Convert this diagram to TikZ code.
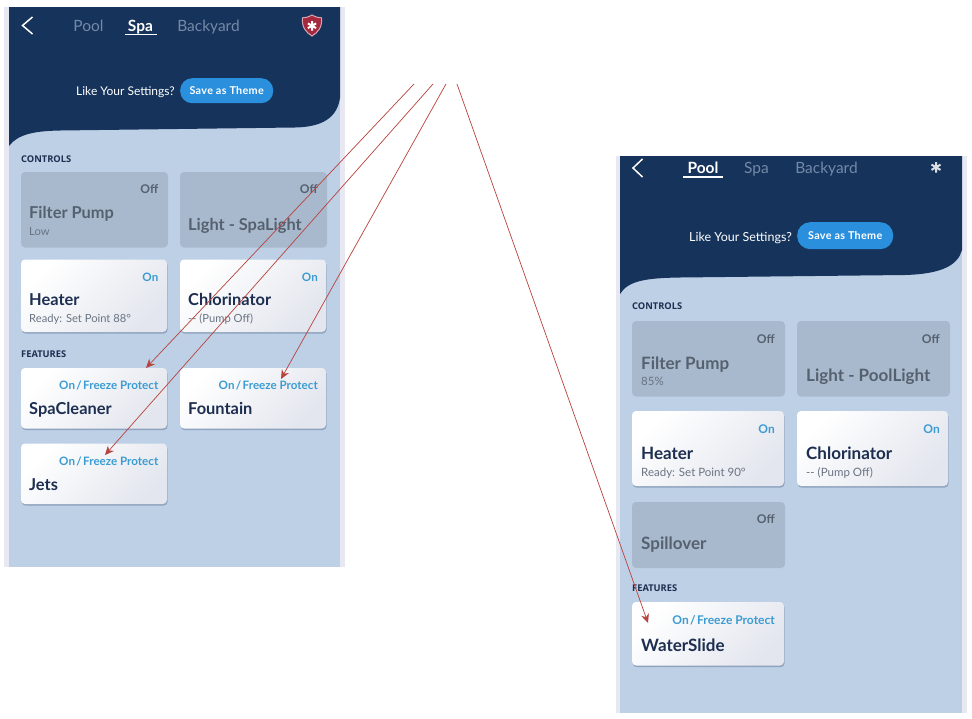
\documentclass[tikz,border=0pt]{standalone}
\usepackage{fontspec}
\setmainfont{Lato}
\newfontfamily\labelfont{Open Sans}
\usetikzlibrary{arrows.meta,shadows,calc}
\definecolor{navy}{HTML}{16335B}
\definecolor{pagebg}{HTML}{BDD0E6}
\definecolor{framebg}{HTML}{E8E8F2}
\definecolor{graycard}{HTML}{A8B9CD}
\definecolor{graytext}{HTML}{566170}
\definecolor{subtext}{HTML}{6A7482}
\definecolor{darktitle}{HTML}{1D2E50}
\definecolor{ontext}{HTML}{3C9CD2}
\definecolor{tabdim}{HTML}{7389A8}
\definecolor{btn}{HTML}{2A8FDD}
\definecolor{shieldred}{HTML}{A4283E}
\definecolor{shieldrim}{HTML}{D9A5B0}
\definecolor{arrowred}{HTML}{B8423C}
\definecolor{cardend}{HTML}{E3E6EE}
\definecolor{shadowc}{HTML}{8FA3BE}
\newcommand{\savetext}{\addfontfeature{LetterSpace=3}Save as Theme}
\newcommand{\onfreeze}{On\hspace{1.4pt}/\hspace{1.4pt}Freeze Protect}
\tikzset{
  x=1pt,y=-1pt,
  graybox/.style={rectangle,rounded corners=4pt,fill=graycard,inner sep=0pt,outer sep=0pt},
  whitebox/.style={rectangle,rounded corners=4pt,inner sep=0pt,outer sep=0pt,
    top color=white,bottom color=cardend,shading angle=45,
    general shadow={shadow xshift=0.6pt,shadow yshift=-1.6pt,fill=shadowc}},
  title/.style={anchor=base west,inner sep=0pt,font=\fontsize{17}{17}\selectfont\bfseries},
  titleL/.style={anchor=base west,inner sep=0pt,font=\fontsize{16.4}{17}\selectfont\bfseries},
  statusoff/.style={anchor=base east,inner sep=0pt,text=graytext,font=\fontsize{12}{12}\selectfont\bfseries},
  statuson/.style={anchor=base east,inner sep=0pt,text=ontext,font=\fontsize{12}{12}\selectfont\bfseries},
  statusonL/.style={anchor=base east,inner sep=0pt,text=ontext,font=\fontsize{11.6}{12}\selectfont\bfseries},
  subline/.style={anchor=base west,inner sep=0pt,text=subtext,font=\fontsize{11.5}{12}\selectfont},
  sublineL/.style={anchor=base west,inner sep=0pt,text=subtext,font=\fontsize{11.2}{12}\selectfont},
  section/.style={anchor=base west,inner sep=0pt,text=darktitle,font=\labelfont\fontsize{9.3}{9}\selectfont\bfseries},
  tabon/.style={anchor=base,inner sep=0pt,text=white,font=\fontsize{15.5}{16}\selectfont\bfseries},
  taboff/.style={anchor=base,inner sep=0pt,text=tabdim,font=\fontsize{15.5}{16}\selectfont},
  likeit/.style={anchor=base west,inner sep=0pt,text=white,font=\fontsize{12.5}{13}\selectfont},
  likeitL/.style={anchor=base west,inner sep=0pt,text=white,font=\fontsize{12}{13}\selectfont},
  savebtn/.style={rectangle,rounded corners=12pt,fill=btn,inner sep=0pt},
  savelabel/.style={text=white,inner sep=0pt,font=\fontsize{10.8}{11}\selectfont\bfseries},
  link/.style={draw=arrowred,line width=0.7pt,-{Stealth[length=9pt,width=8pt,fill=arrowred]}},
  glyph/.style={draw=white,line width=2pt},
}
\newcommand{\cardnode}[6]{%
  \pgfmathsetmacro{\cw}{#4-#2}\pgfmathsetmacro{\ch}{#5-#3}%
  \node[#6,anchor=north west,minimum width=\cw pt,minimum height=\ch pt] (#1) at (#2,#3) {};}
\begin{document}
\begin{tikzpicture}
\useasboundingbox (0,0) rectangle (972,718);
\fill[white] (0,0) rectangle (972,718);

% ---- left phone
\fill[framebg] (4,7) rectangle (345,567);
\fill[pagebg] (9,7) rectangle (340,567);
\fill[navy] (9,7) -- (340,7) -- (340,98) .. controls (337,118) and (322,127) .. (295,127.5)
  -- (60,130.5) .. controls (35,131) and (18,134) .. (9,146) -- cycle;
\draw[white,line width=1.5pt] (32.5,17) -- (22.5,25.5) -- (32.5,34);
\node[taboff] (lpool) at (88.5,31) {Pool};
\node[tabon] (lspa) at (140.5,31) {Spa};
\fill[white] (124.5,33.5) rectangle (157,35);
\node[taboff] (lback) at (208.5,31) {Backyard};
\filldraw[fill=shieldred,draw=shieldrim,line width=1pt] (312,15) .. controls (316,17.3) and (319,17.8) .. (321.5,17.8)
  .. controls (322.5,27) and (318,32.5) .. (312,36) .. controls (306,32.5) and (301.5,27) .. (302.5,17.8)
  .. controls (305,17.8) and (308,17.3) .. (312,15) -- cycle;
\draw[glyph] (312,21) -- (312,30.5) (307.9,23.4) -- (316.1,28.1) (307.9,28.1) -- (316.1,23.4);
\node[likeitL] (llike) at (76,95) {Like Your Settings?};
\cardnode{lsave}{180}{78}{273}{103}{savebtn}
\node[savelabel] (lsavet) at (lsave.center) {\savetext};

\node[section] (lcontrols) at (21,162) {CONTROLS};
\cardnode{lfilter}{21}{172}{168}{247.5}{graybox}
\node[statusoff] (lfilteroff) at (158.5,193) {Off};
\node[titleL,text=graytext] (lfiltert) at (29,218.5) {Filter Pump};
\node[sublineL] (lfilters) at (29,235) {Low};
\cardnode{llight}{180}{172}{327}{247.5}{graybox}
\node[statusoff] (llightoff) at (318,193) {Off};
\node[titleL,text=graytext] (llightt) at (188,230) {Light - SpaLight};
\cardnode{lheater}{21}{259.5}{167}{332}{whitebox}
\node[statusonL] (lheateron) at (158.5,281) {On};
\node[titleL,text=darktitle] (lheatert) at (29,305) {Heater};
\node[sublineL] (lheaters) at (29,322) {Ready: Set Point 88°};
\cardnode{lchlor}{180}{259.5}{326}{332}{whitebox}
\node[statusonL] (lchloron) at (318,281) {On};
\node[titleL,text=darktitle] (lchlort) at (188,305) {Chlorinator};
\node[sublineL] (lchlors) at (188,322) {-{}- (Pump Off)};
\node[section] (lfeatures) at (21,357) {FEATURES};
\cardnode{lcleaner}{21}{368}{167}{428.5}{whitebox}
\node[statusonL] (lcleaners) at (158.5,389) {\onfreeze};
\node[titleL,text=darktitle] (lcleanert) at (29,414) {SpaCleaner};
\cardnode{lfount}{180}{368}{326}{428.5}{whitebox}
\node[statusonL] (lfounts) at (318,389) {\onfreeze};
\node[titleL,text=darktitle] (lfountt) at (188,414) {Fountain};
\cardnode{ljets}{21}{443.5}{167}{504}{whitebox}
\node[statusonL] (ljetss) at (158.5,465) {\onfreeze};
\node[titleL,text=darktitle] (ljetst) at (29,490) {Jets};

% ---- right phone
\fill[framebg] (616,156) rectangle (967,713);
\fill[pagebg] (620,156) rectangle (962,713);
\fill[navy] (620,156) -- (962,156) -- (962,250) .. controls (958,265) and (942,274) .. (905,275)
  -- (680,277.5) .. controls (645,278) and (628,281) .. (620,294) -- cycle;
\draw[white,line width=1.5pt] (642.5,159) -- (633,168) -- (642.5,177);
\node[tabon] (rpool) at (703,173) {Pool};
\fill[white] (683,176) rectangle (723,177.5);
\node[taboff] (rspa) at (756.5,173) {Spa};
\node[taboff] (rback) at (826.5,173) {Backyard};
\draw[glyph,draw=white!85!navy] (936,162) -- (936,172.5) (931.5,164.6) -- (940.5,169.9) (931.5,169.9) -- (940.5,164.6);
\node[likeit] (rlike) at (689,241) {Like Your Settings?};
\cardnode{rsave}{797}{222}{893}{249}{savebtn,rounded corners=13pt}
\node[savelabel] (rsavet) at (rsave.center) {\savetext};

\node[section] (rcontrols) at (632,309) {CONTROLS};
\cardnode{rfilter}{632}{321}{785}{396.5}{graybox}
\node[statusoff] (rfilteroff) at (775,343) {Off};
\node[title,text=graytext] (rfiltert) at (641,369) {Filter Pump};
\node[subline] (rfilters) at (641,385) {85\%};
\cardnode{rlight}{797}{321}{950}{396.5}{graybox}
\node[statusoff] (rlightoff) at (940,343) {Off};
\node[title,text=graytext] (rlightt) at (806,381) {Light - PoolLight};
\cardnode{rheater}{632}{411}{784}{486}{whitebox}
\node[statuson] (rheateron) at (775,433) {On};
\node[title,text=darktitle] (rheatert) at (641,459) {Heater};
\node[subline] (rheaters) at (641,476) {Ready: Set Point 90°};
\cardnode{rchlor}{797}{411}{948}{486}{whitebox}
\node[statuson] (rchloron) at (940,433) {On};
\node[title,text=darktitle] (rchlort) at (806,459) {Chlorinator};
\node[subline] (rchlors) at (806,476) {-{}- (Pump Off)};
\cardnode{rspill}{632}{502}{785}{568}{graybox}
\node[statusoff] (rspilloff) at (775,523) {Off};
\node[title,text=graytext] (rspillt) at (641,549) {Spillover};
\node[section] (rfeatures) at (632,591) {FEATURES};
\cardnode{rslide}{632}{602}{784}{665.5}{whitebox}
\node[statuson] (rslides) at (775,624) {\onfreeze};
\node[title,text=darktitle] (rslidet) at (641,651) {WaterSlide};

% ---- connectors
\coordinate (s1) at (414,84);
\coordinate (s2) at (433,84);
\coordinate (s3) at (446,84);
\coordinate (s4) at (457,84);
\coordinate (t1) at (146,368);
\coordinate (t2) at (105,455);
\coordinate (t3) at (281,379);
\coordinate (t4) at (648,623);
\draw[link] (s1) -- (t1);
\draw[link] (s2) -- (t2);
\draw[link] (s3) -- (t3);
\draw[link] (s4) -- (t4);
\end{tikzpicture}
\end{document}
